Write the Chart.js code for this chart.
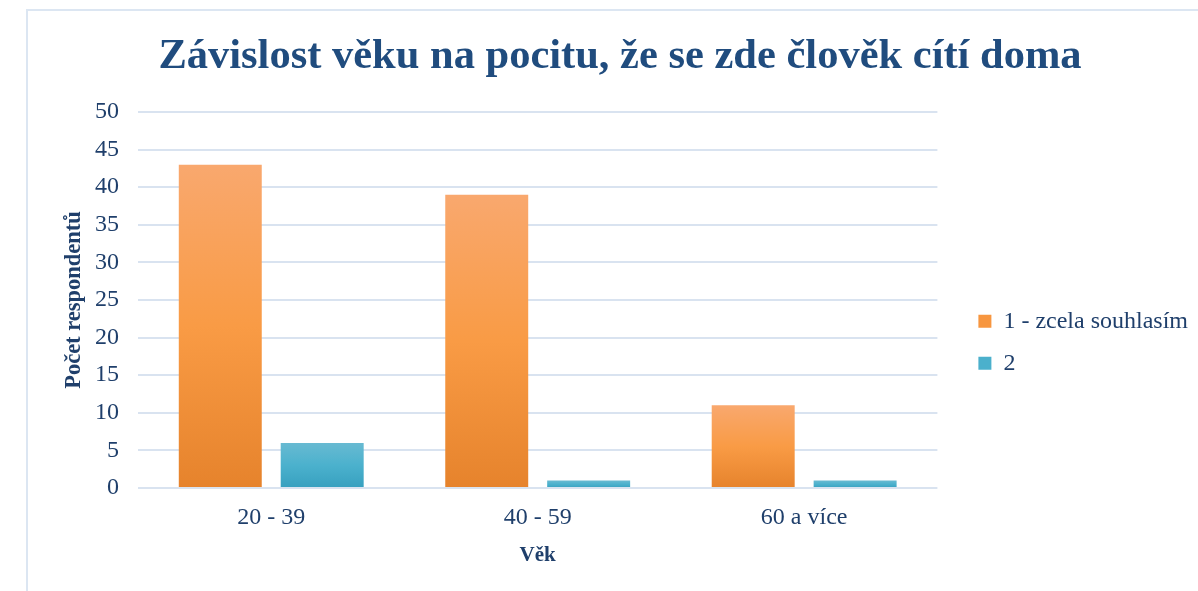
<!DOCTYPE html>
<html>
<head>
<meta charset="utf-8">
<script src="https://cdn.jsdelivr.net/npm/chart.js@4.4.1/dist/chart.umd.min.js"></script>
<style>
  html, body { margin: 0; padding: 0; background: #fff; overflow: hidden; }
  .frame { position: absolute; left: 26px; top: 9px; width: 1300px; height: 700px; border: 2px solid #dce6f2; }
  .wrap { position: absolute; left: 28px; top: 11px; width: 1170px; height: 580px; }
</style>
</head>
<body>
<div class="frame"></div>
<div class="wrap"><canvas id="chart"></canvas></div>
<script>
const categories = ['20 - 39', '40 - 59', '60 a více'];
const seriesNames = ['1 - zcela souhlasím', '2'];
const agree = [43, 39, 11];
const second = [6, 1, 1];

const navy = '#1f3f6b';
const serif = "'Liberation Serif', 'Times New Roman', serif";
const legendGapPx = 23;

// Excel-like gradient, recomputed for each bar from its own top to the baseline
function barGradient(top, mid, bottom) {
  return function(context) {
    const chart = context.chart;
    const y = chart.scales && chart.scales.y;
    if (!y || !context.parsed) return mid;
    const yTop = y.getPixelForValue(context.parsed.y);
    const yBase = y.getPixelForValue(0);
    if (!isFinite(yTop) || !isFinite(yBase) || yTop === yBase) return mid;
    const g = chart.ctx.createLinearGradient(0, yTop, 0, yBase);
    g.addColorStop(0, top);
    g.addColorStop(0.5, mid);
    g.addColorStop(1, bottom);
    return g;
  };
}

// leaves some empty room between the plot and the legend
const legendGap = {
  id: 'legendGap',
  beforeLayout(chart) {
    const legend = chart.legend;
    if (!legend || legend._gapPatched) return;
    const fit = legend.fit.bind(legend);
    legend.fit = function() { fit(); this.width += legendGapPx; };
    legend._gapPatched = true;
  },
  afterLayout(chart) {
    if (chart.legend) chart.legend.left += legendGapPx;
  }
};

new Chart(document.getElementById('chart'), {
  type: 'bar',
  data: {
    labels: categories,
    datasets: [
      { label: seriesNames[0], data: agree, backgroundColor: barGradient('#f9a86e', '#f99b45', '#e6832c') },
      { label: seriesNames[1], data: second, backgroundColor: barGradient('#68bad2', '#4bb1cd', '#37a0bf') }
    ]
  },
  plugins: [legendGap],
  options: {
    responsive: true,
    maintainAspectRatio: false,
    animation: false,
    categoryPercentage: 0.765,
    barPercentage: 0.814,
    layout: { padding: { left: 14, right: 0, top: 0, bottom: 23 } },
    plugins: {
      title: {
        display: true,
        text: 'Závislost věku na pocitu, že se zde člověk cítí doma',
        color: '#204c7e',
        font: { family: serif, size: 42.5, weight: 'bold' },
        padding: { top: 21, bottom: 29 }
      },
      legend: {
        position: 'right',
        title: { display: true, text: ' ', padding: 42, font: { size: 18 } },
        labels: {
          font: { family: serif, size: 24 },
          boxWidth: 13,
          boxHeight: 13,
          padding: 18,
          generateLabels: function(chart) {
            const colors = ['#f7963f', '#4bb0cc'];
            return chart.data.datasets.map((ds, i) => ({
              text: ds.label,
              fillStyle: colors[i],
              strokeStyle: colors[i],
              fontColor: navy,
              lineWidth: 0,
              hidden: false,
              datasetIndex: i
            }));
          }
        }
      },
      tooltip: { enabled: false }
    },
    scales: {
      x: {
        grid: { display: false, drawTicks: false },
        border: { display: false },
        ticks: { color: navy, font: { family: serif, size: 24 }, padding: 15 },
        title: { display: true, text: 'Věk', color: navy, font: { family: serif, size: 21, weight: 'bold' }, padding: 0 },
        afterFit: function(scale) { scale.height = 80; }
      },
      y: {
        min: 0,
        max: 50,
        ticks: { stepSize: 5, color: navy, font: { family: serif, size: 24 }, padding: 19 },
        grid: { color: '#d9e3f0', lineWidth: 2, drawTicks: false },
        border: { display: false },
        title: { display: true, text: 'Počet respondentů', color: navy, font: { family: serif, size: 22.5, weight: 'bold' }, padding: { top: 19, bottom: 0 } },
        afterFit: function(scale) { scale.width = 96; }
      }
    }
  }
});
</script>
</body>
</html>
